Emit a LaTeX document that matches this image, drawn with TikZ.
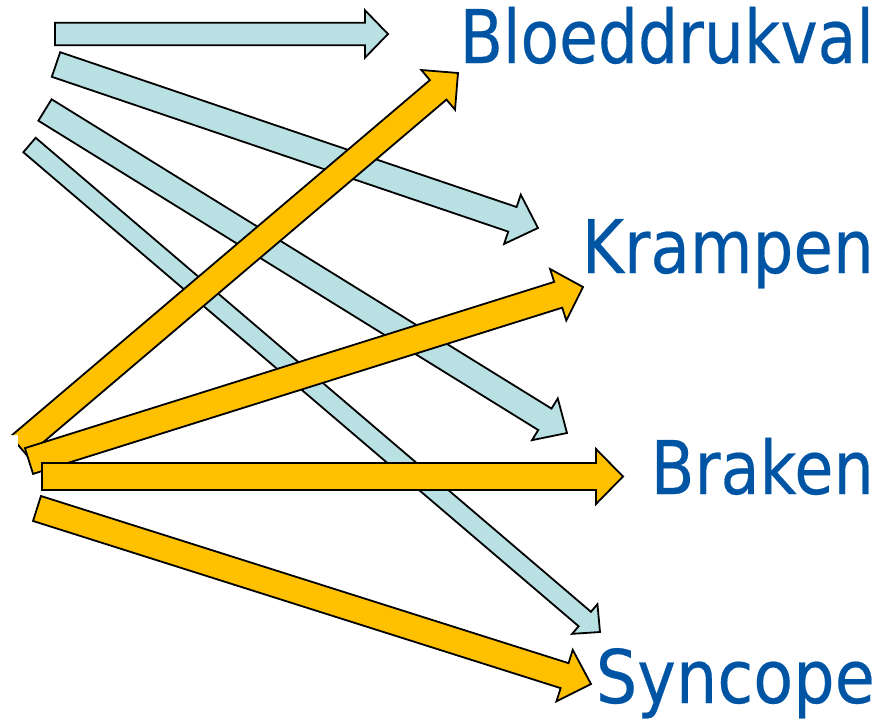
\documentclass[tikz,border=0pt]{standalone}
\usepackage{graphicx}
\usepackage{fontspec}
\newfontfamily\lblfont[FakeBold=0.3]{DejaVu Sans}
\usetikzlibrary{calc}
\definecolor{paleblue}{RGB}{185,224,227}
\definecolor{amber}{RGB}{255,192,0}
\definecolor{labelblue}{RGB}{0,84,164}
\tikzset{
  bluearrow/.style={fill=paleblue,draw=black,line width=1.8pt,line join=miter},
  amberarrow/.style={fill=amber,draw=black,line width=1.8pt,line join=miter},
  word/.style={anchor=base east,inner sep=0pt,text=labelblue,
    font=\lblfont\fontsize{74}{80}\selectfont}
}
% block arrow: #1 style, #2 tail, #3 tip, #4 shaft half width, #5 head half width, #6 head length
\newcommand{\blockarr}[6]{%
  \coordinate (hb) at ($(#3)!#6!(#2)$);
  \draw[#1] ($(#2)!#4!90:(#3)$) -- ($(hb)!#4!90:(#3)$) -- ($(hb)!#5!90:(#3)$)
    -- (#3) -- ($(hb)!#5!-90:(#3)$) -- ($(hb)!#4!-90:(#3)$)
    -- ($(#2)!#4!-90:(#3)$) -- cycle;
}
% a label whose width is set explicitly
\newcommand{\wword}[2]{\resizebox{#1}{\height}{#2}}
\begin{document}
\begin{tikzpicture}[x=1pt,y=-1pt]
  \useasboundingbox (0,0) rectangle (892,723);

  % end points of the arrows
  \coordinate (b1s) at (55,34);    \coordinate (b1e) at (388,34);
  \coordinate (b2s) at (56,64.5);  \coordinate (b2e) at (538,228);
  \coordinate (b3s) at (45,110);   \coordinate (b3e) at (567,433);
  \coordinate (b4s) at (29.5,145); \coordinate (b4e) at (600,632);
  \coordinate (o1s) at (19,446);   \coordinate (o1e) at (458,73);
  \coordinate (o2s) at (29,461);   \coordinate (o2e) at (583,287);
  \coordinate (o3s) at (42,476.5); \coordinate (o3e) at (623,476.5);
  \coordinate (o4s) at (37,508.5); \coordinate (o4e) at (591,684);

  % pale blue arrows
  \blockarr{bluearrow}{b1s}{b1e}{11.3pt}{23.7pt}{23pt}
  \blockarr{bluearrow}{b2s}{b2e}{13pt}{26pt}{27pt}
  \blockarr{bluearrow}{b3s}{b3e}{12.6pt}{24.5pt}{26pt}
  \blockarr{bluearrow}{b4s}{b4e}{9.5pt}{19.5pt}{20pt}

  % amber arrows
  \begin{scope}
    \clip (0,0) -- (892,0) -- (892,723) -- (18,723) -- (18,435) -- (0,435) -- cycle;
    \blockarr{amberarrow}{o1s}{o1e}{12.8pt}{26pt}{26pt}
  \end{scope}
  \blockarr{amberarrow}{o2s}{o2e}{13.5pt}{27pt}{26pt}
  \blockarr{amberarrow}{o3s}{o3e}{13.5pt}{27.5pt}{27pt}
  \blockarr{amberarrow}{o4s}{o4e}{13.1pt}{27pt}{27.7pt}

  % labels
  \node[word] (bloed) at (874,63)  {\wword{414pt}{Bloeddrukval}};
  \node[word] (kramp) at (874,273) {\wword{292pt}{Krampen}};
  \node[word] (brak)  at (874,494) {\wword{223pt}{Braken}};
  \node[word] (sync)  at (875,703) {\wword{279pt}{Syncope}};
\end{tikzpicture}
\end{document}
